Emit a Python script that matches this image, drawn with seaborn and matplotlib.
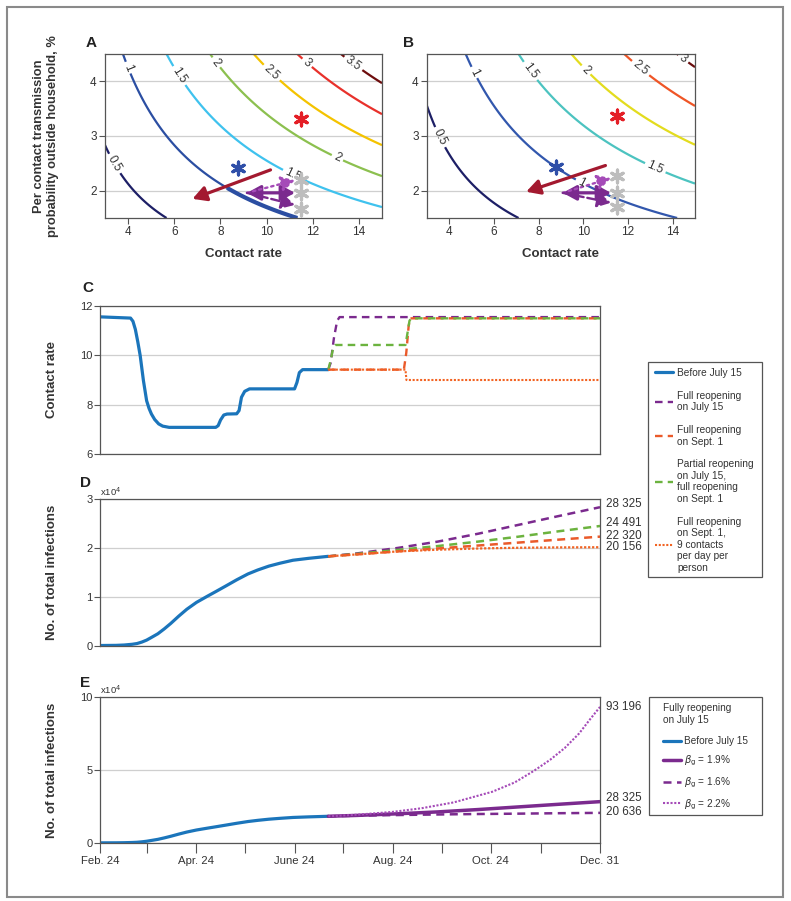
import numpy as np
import pandas as pd
import matplotlib
matplotlib.use("Agg")
import matplotlib.pyplot as plt
from matplotlib.patches import Rectangle
import seaborn as sns

sns.set_theme(style="ticks")
plt.rcParams['font.family'] = ['Liberation Sans', 'DejaVu Sans']
plt.rcParams['mathtext.fontset'] = 'dejavusans'

# ---------------- Panels A / B : reproduction number contours ----------------
contact_lim = [3, 15]
prob_lim = [1.5, 4.5]
contact_ticks = [4, 6, 8, 10, 12, 14]
prob_ticks = [2, 3, 4]
r_levels_A = [0.5, 1, 1.5, 2, 2.5, 3, 3.5]
r_colors_A = ['#1d1f66', '#2b4ea2', '#3fc2ee', '#8cc04f', '#f4c300', '#e8312b', '#6e0d0d']
r_levels_B = [0.5, 1, 1.5, 2, 2.5, 3]
r_colors_B = ['#1d1f66', '#3257ad', '#4cc3c0', '#e3dc1e', '#ef5526', '#6a0e0e']
cp_at_R1_A = 17.0      # contact rate x probability (%) giving R = 1 (panel A)
cp_at_R1_B = 21.3      # same for panel B
label_pos_A = [(3.35, 2.48), (4.0, 4.25), (6.2, 4.1), (11.15, 2.29), (7.83, 4.35),
               (13.1, 2.63), (10.2, 4.15), (11.8, 4.36), (13.8, 4.35)]
label_pos_B = [(3.49, 2.96), (5.06, 4.15), (9.9, 2.14), (7.5, 4.15), (13.18, 2.38),
               (10.1, 4.2), (12.48, 4.2), (14.45, 4.4)]

star_blue_A = ([8.77], [2.41])
star_red_A = ([11.47], [3.31])
star_gray_A = ([11.47, 11.47, 11.47], [2.19, 1.95, 1.66])
arrow_red_A = [(10.17, 2.38), (6.79, 1.85)]
purple_start_A = (9.15, 1.96)
purple_ends_A = [(11.23, 1.96), (11.23, 2.19), (11.23, 1.74)]

star_blue_B = ([8.78], [2.43])
star_red_B = ([11.49], [3.37])
star_gray_B = ([11.49, 11.49, 11.49], [2.26, 1.96, 1.70])
arrow_red_B = [(10.99, 2.46), (7.44, 1.98)]
purple_start_B = (9.08, 1.96)
purple_ends_B = [(11.24, 1.96), (11.24, 2.23), (11.24, 1.78)]

# ---------------- Panels C / D / E : time series (days after Feb. 24) ----------------
tick_days = [0, 29, 60, 90, 121, 151, 182, 213, 243, 274, 311]
tick_labels = ['Feb. 24', '', 'Apr. 24', '', 'June 24', '', 'Aug. 24', '', 'Oct. 24', '', 'Dec. 31']

before_days = [0, 19, 20.5, 22, 23.5, 25, 27, 29, 30.5, 32, 34, 36.5, 39, 43, 72, 73.5, 75,
               77, 79, 85, 86.5, 88, 90, 93, 121, 122.5, 124, 126, 142]
before_rate = [11.56, 11.51, 11.38, 11.05, 10.55, 9.99, 8.98, 8.16, 7.85, 7.62, 7.40, 7.22,
               7.13, 7.08, 7.08, 7.15, 7.38, 7.58, 7.62, 7.63, 7.76, 8.30, 8.54, 8.64, 8.64,
               8.9, 9.3, 9.42, 9.42]

full_jul_days = [142, 143.5, 145.5, 147.5, 149, 311]
full_jul_rate = [9.42, 9.7, 10.7, 11.4, 11.55, 11.55]
full_sep_days = [142, 189, 190.5, 192, 193, 311]
full_sep_rate = [9.42, 9.42, 10.1, 11.2, 11.5, 11.5]
partial_days = [142, 143.5, 145, 146.5, 190, 191, 192.5, 193.5, 311]
partial_rate = [9.42, 9.8, 10.3, 10.42, 10.42, 10.8, 11.4, 11.5, 11.5]
sep9_days = [142, 190, 190.6, 311]
sep9_rate = [9.42, 9.42, 9.0, 9.0]

before_inf_days = [0, 10, 15, 20, 23, 26, 29, 32, 36, 40, 44, 49, 54, 60, 67, 72, 78, 85,
                   92, 98, 105, 112, 120, 130, 142]
before_inf = [100, 130, 200, 350, 500, 800, 1200, 1750, 2500, 3500, 4600, 6100, 7500, 8900,
              10200, 11100, 12200, 13500, 14700, 15500, 16300, 16900, 17500, 17900, 18300]

scen_days = [142, 160, 185, 210, 235, 260, 285, 311]
full_jul_inf = [18300, 18900, 20000, 21300, 22900, 24700, 26500, 28325]
partial_inf = [18300, 18800, 19600, 20400, 21300, 22300, 23400, 24491]
full_sep_inf = [18300, 18700, 19300, 19900, 20500, 21100, 21700, 22320]
sep9_inf = [18300, 18700, 19300, 19650, 19900, 20050, 20120, 20156]
label_y_D = [2.90, 2.51, 2.25, 2.02]

beta16_days = [142, 170, 200, 230, 260, 285, 311]
beta16_inf = [18300, 18900, 19400, 19800, 20100, 20400, 20636]
beta22_days = [142, 160, 182, 200, 220, 244, 258, 270, 280, 289, 298, 305, 311]
beta22_inf = [18300, 19400, 21300, 23800, 27800, 35100, 41500, 49500, 57000, 65000,
              75000, 85000, 93196]
label_y_E = [9.33, 3.09, 2.13]

C_BLUE = '#1b75bb'
C_PURPLE = '#7b2a8e'
C_PURPLE_LIGHT = '#a54bb8'
C_ORANGE = '#ea5a2a'
C_GREEN = '#6cb33f'
C_ORANGE_DOT = '#f26322'
SPINE = '#555555'
GRID = '#cfcfcf'
TXT = '#333333'

W, H = 791, 901
fig = plt.figure(figsize=(W / 100, H / 100), dpi=100)


def fbox(x0, y0, x1, y1):
    return [x0 / W, 1 - y1 / H, (x1 - x0) / W, (y1 - y0) / H]


def style_axes(ax):
    for s in ax.spines.values():
        s.set_color(SPINE)
        s.set_linewidth(0.9)
    ax.yaxis.grid(True, color=GRID, lw=0.9)
    ax.set_axisbelow(True)
    ax.set_xlabel('')
    ax.set_ylabel('')


def arrow(ax, start, end, color, lw, ls='-', both=False):
    style = '<|-|>' if both else '-|>'
    ax.annotate('', xy=end, xytext=start,
                arrowprops=dict(arrowstyle=f'{style},head_length=0.55,head_width=0.3',
                                color=color, lw=lw, linestyle=ls,
                                shrinkA=0, shrinkB=0, mutation_scale=15))


def contour_panel(box, cp1, levels, colors, label_pos, star_blue, star_red, star_gray,
                  arrow_red, pstart, pends, thick_from=None):
    ax = fig.add_axes(fbox(*box))
    c = np.linspace(contact_lim[0], contact_lim[1], 400)
    p = np.linspace(prob_lim[0], prob_lim[1], 400)
    CC, PP = np.meshgrid(c, p)
    Z = CC * PP / cp1
    ax.set_xlim(contact_lim)
    ax.set_ylim(prob_lim)
    cs = ax.contour(CC, PP, Z, levels=levels, colors=colors, linewidths=1.6)
    ax.clabel(cs, inline=True, fontsize=8.5, colors=TXT, manual=label_pos,
              fmt=lambda v: f'{v:g}', inline_spacing=3)
    if thick_from is not None:
        Zm = np.ma.masked_where(CC < thick_from, Z)
        ax.contour(CC, PP, Zm, levels=[1], colors=[colors[1]], linewidths=3.0)
    ax.set_xticks(contact_ticks)
    ax.set_yticks(prob_ticks)
    style_axes(ax)
    ax.tick_params(axis='both', direction='out', length=4, width=0.8, color=SPINE,
                   labelsize=8.5, labelcolor=TXT, pad=2)
    # arrows
    arrow(ax, arrow_red[0], arrow_red[1], '#a3192f', 2.3)
    arrow(ax, pstart, pends[0], C_PURPLE, 2.3, both=True)
    arrow(ax, pstart, pends[1], C_PURPLE_LIGHT, 1.7, ls=':')
    arrow(ax, pstart, pends[2], C_PURPLE, 1.7, ls='--')
    # asterisks
    sns.scatterplot(x=star_gray[0], y=star_gray[1], ax=ax, marker=(6, 2, 0), s=85,
                    color='#bdbdbd', linewidth=2.3, zorder=5)
    sns.scatterplot(x=star_blue[0], y=star_blue[1], ax=ax, marker=(6, 2, 0), s=85,
                    color='#2f4fa8', linewidth=2.3, zorder=5)
    sns.scatterplot(x=star_red[0], y=star_red[1], ax=ax, marker=(6, 2, 0), s=85,
                    color='#e41e26', linewidth=2.3, zorder=5)
    return ax


axA = contour_panel((105, 54, 382, 218), cp_at_R1_A, r_levels_A, r_colors_A, label_pos_A,
                    star_blue_A, star_red_A, star_gray_A, arrow_red_A,
                    purple_start_A, purple_ends_A, thick_from=8.27)
axB = contour_panel((427, 54, 695, 218), cp_at_R1_B, r_levels_B, r_colors_B, label_pos_B,
                    star_blue_B, star_red_B, star_gray_B, arrow_red_B,
                    purple_start_B, purple_ends_B)

# ---------------- Panel C ----------------
axC = fig.add_axes(fbox(100, 306, 600, 454))
dash = (0, (3.2, 2.2))
dot = (0, (1, 0.8))
sns.lineplot(x=before_days, y=before_rate, ax=axC, color=C_BLUE, lw=2.3,
             label='Before July 15', estimator=None, sort=False)
sns.lineplot(x=full_jul_days, y=full_jul_rate, ax=axC, color=C_PURPLE, lw=1.7, linestyle=dash,
             label='Full reopening\non July 15', estimator=None, sort=False)
sns.lineplot(x=full_sep_days, y=full_sep_rate, ax=axC, color=C_ORANGE, lw=1.7, linestyle=dash,
             label='Full reopening\non Sept. 1', estimator=None, sort=False)
sns.lineplot(x=partial_days, y=partial_rate, ax=axC, color=C_GREEN, lw=1.7, linestyle=dash,
             label='Partial reopening\non July 15,\nfull reopening\non Sept. 1',
             estimator=None, sort=False)
sns.lineplot(x=sep9_days, y=sep9_rate, ax=axC, color=C_ORANGE_DOT, lw=1.5, linestyle=dot,
             label='Full reopening\non Sept. 1,\n9 contacts\nper day per\nperson',
             estimator=None, sort=False)
handles, labels = axC.get_legend_handles_labels()
if axC.get_legend():
    axC.get_legend().remove()
axC.set_xlim(0, 311)
axC.set_ylim(6, 12)
axC.set_yticks([6, 8, 10, 12])
axC.set_xticks([])
style_axes(axC)
axC.tick_params(axis='y', direction='out', length=4, width=0.8, color=SPINE,
                labelsize=8, labelcolor=TXT, pad=1.5)

# ---------------- Panel D ----------------
axD = fig.add_axes(fbox(100, 499, 600, 646))
sns.lineplot(x=before_inf_days, y=np.array(before_inf) / 1e4, ax=axD, color=C_BLUE, lw=2.3,
             estimator=None, sort=False)
scen = [(full_jul_inf, C_PURPLE, dash, 1.8), (partial_inf, C_GREEN, dash, 1.8),
        (full_sep_inf, C_ORANGE, dash, 1.8), (sep9_inf, C_ORANGE_DOT, dot, 1.6)]
for (vals, col, ls, lw), ly in zip(scen, label_y_D):
    sns.lineplot(x=scen_days, y=np.array(vals) / 1e4, ax=axD, color=col, lw=lw, linestyle=ls,
                 estimator=None, sort=False)
    axD.text(1.012, ly, f'{vals[-1]:,}'.replace(',', ' '), transform=axD.get_yaxis_transform(),
             ha='left', va='center', fontsize=8.4, color=TXT)
axD.set_xlim(0, 311)
axD.set_ylim(0, 3)
axD.set_yticks([0, 1, 2, 3])
axD.set_xticks([])
style_axes(axD)
axD.tick_params(axis='y', direction='out', length=4, width=0.8, color=SPINE,
                labelsize=8, labelcolor=TXT, pad=1.5)
axD.text(0.0, 1.01, r'x10$^4$', transform=axD.transAxes, ha='left', va='bottom',
         fontsize=6.8, color=TXT)

# ---------------- Panel E ----------------
axE = fig.add_axes(fbox(100, 697, 600, 843))
sns.lineplot(x=before_inf_days, y=np.array(before_inf) / 1e4, ax=axE, color=C_BLUE, lw=2.3,
             estimator=None, sort=False, label='Before July 15')
sns.lineplot(x=scen_days, y=np.array(full_jul_inf) / 1e4, ax=axE, color=C_PURPLE, lw=2.5,
             estimator=None, sort=False, label=r'$\beta_{\rm g}$ = 1.9%')
sns.lineplot(x=beta16_days, y=np.array(beta16_inf) / 1e4, ax=axE, color=C_PURPLE, lw=1.8,
             linestyle=dash, estimator=None, sort=False, label=r'$\beta_{\rm g}$ = 1.6%')
sns.lineplot(x=beta22_days, y=np.array(beta22_inf) / 1e4, ax=axE, color=C_PURPLE_LIGHT, lw=1.5,
             linestyle=dot, estimator=None, sort=False, label=r'$\beta_{\rm g}$ = 2.2%')
hE, lE = axE.get_legend_handles_labels()
if axE.get_legend():
    axE.get_legend().remove()
for vals, ly in zip([beta22_inf, full_jul_inf, beta16_inf], label_y_E):
    axE.text(1.012, ly, f'{vals[-1]:,}'.replace(',', ' '), transform=axE.get_yaxis_transform(),
             ha='left', va='center', fontsize=8.4, color=TXT)
axE.set_xlim(0, 311)
axE.set_ylim(0, 10)
axE.set_yticks([0, 5, 10])
axE.set_xticks(tick_days)
axE.set_xticklabels(tick_labels)
style_axes(axE)
axE.tick_params(axis='y', direction='out', length=4, width=0.8, color=SPINE,
                labelsize=8, labelcolor=TXT, pad=1.5)
axE.tick_params(axis='x', direction='out', length=7, width=0.8, color=SPINE,
                labelsize=8.2, labelcolor=TXT, pad=2)
axE.text(0.0, 1.01, r'x10$^4$', transform=axE.transAxes, ha='left', va='bottom',
         fontsize=6.8, color=TXT)

# ---------------- Legends ----------------
fig.add_artist(Rectangle((648 / W, 1 - 577 / H), 114 / W, 215 / H, transform=fig.transFigure,
                         fill=False, edgecolor=SPINE, lw=0.9))
fig.legend(handles, labels, loc='upper left', bbox_to_anchor=(655 / W, 1 - 368 / H),
           frameon=False, fontsize=7.3, labelcolor=TXT, handlelength=1.8, handletextpad=0.4,
           labelspacing=1.25, borderpad=0, borderaxespad=0)

fig.add_artist(Rectangle((649 / W, 1 - 815 / H), 113 / W, 118 / H, transform=fig.transFigure,
                         fill=False, edgecolor=SPINE, lw=0.9))
fig.text(663 / W, 1 - 703 / H, 'Fully reopening\non July 15', ha='left', va='top',
         fontsize=7.2, color=TXT, linespacing=1.2)
fig.legend(hE, lE, loc='upper left', bbox_to_anchor=(663 / W, 1 - 736 / H),
           frameon=False, fontsize=7.2, labelcolor=TXT, handlelength=1.8, handletextpad=0.3,
           labelspacing=0.75, borderpad=0, borderaxespad=0)

# ---------------- Texts ----------------
for x, y, t in [(86, 47, 'A'), (403, 47, 'B'), (82, 292, 'C'), (80, 487, 'D'), (80, 687, 'E')]:
    fig.text(x / W, 1 - y / H, t, fontsize=11, weight='bold', color='#222222', va='baseline')

fig.text(46 / W, 1 - 136 / H, 'Per contact transmission\nprobability outside household, %',
         rotation=90, ha='center', va='center', fontsize=9.3, weight='bold', color=TXT,
         multialignment='center', linespacing=1.15)
fig.text(243.5 / W, 1 - 254 / H, 'Contact rate', ha='center', va='center', fontsize=9.5,
         weight='bold', color=TXT)
fig.text(561 / W, 1 - 254 / H, 'Contact rate', ha='center', va='center', fontsize=9.5,
         weight='bold', color=TXT)
fig.text(52 / W, 1 - 380 / H, 'Contact rate', rotation=90, ha='center', va='center',
         fontsize=9.5, weight='bold', color=TXT)
fig.text(52 / W, 1 - 572 / H, 'No. of total infections', rotation=90, ha='center', va='center',
         fontsize=9.5, weight='bold', color=TXT)
fig.text(52 / W, 1 - 770 / H, 'No. of total infections', rotation=90, ha='center', va='center',
         fontsize=9.5, weight='bold', color=TXT)

# outer frame
fig.add_artist(Rectangle((7 / W, 1 - 897 / H), 776 / W, 890 / H, transform=fig.transFigure,
                         fill=False, edgecolor='#8a8a8a', lw=1.5))

fig.savefig('out.png', dpi=100, facecolor='white')
